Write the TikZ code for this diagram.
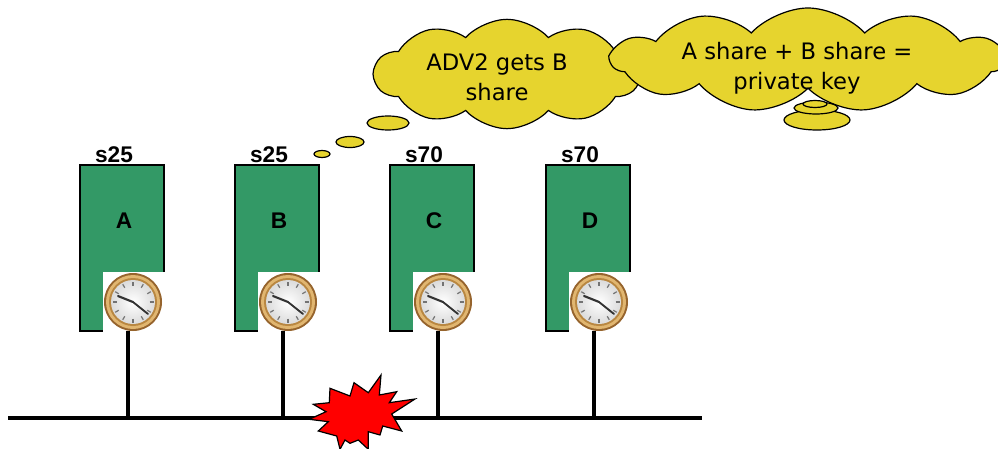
\documentclass[tikz,border=0pt]{standalone}
\usepackage{fontspec}
\setmainfont{Liberation Sans}
\newfontfamily\cloudfont{DejaVu Sans}
\usetikzlibrary{shapes.symbols}
\definecolor{boxgreen}{RGB}{51,153,102}
\definecolor{thought}{RGB}{230,212,46}
\definecolor{rimdark}{RGB}{150,100,45}
\definecolor{rimlight}{RGB}{225,182,112}
\definecolor{rimmid}{RGB}{185,135,65}
\tikzset{
  server/.style={draw=black, line width=0.8pt, fill=boxgreen, minimum width=63pt,
    minimum height=124.5pt, inner sep=0pt, outer sep=0pt, anchor=north west},
  tag/.style={font=\fontsize{17}{20}\selectfont\bfseries, inner sep=0pt},
  wire/.style={line width=2.3pt},
  puff/.style={cloud, cloud puffs=10, cloud puff arc=95, cloud ignores aspect,
    draw=black, line width=0.9pt, fill=thought, inner sep=0pt},
  bubble/.style={draw=black, line width=0.9pt, fill=thought},
  say/.style={font=\cloudfont\fontsize{17}{22.5}\selectfont, align=center, inner sep=0pt},
  clock/.pic={
    \fill[rimdark] (0,0) circle (29);
    \fill[rimlight] (0,0) circle (27);
    \fill[rimmid] (0,0) circle (24);
    \shade[inner color=white, outer color=black!14] (0,0) circle (22);
    \foreach \a in {0,30,...,330}
      \draw[line width=0.9pt, black!55] (\a:16.5) -- (\a:20.5);
    \draw[line width=1.6pt, black!80, line cap=round] (0,0) -- (-15,-6);
    \draw[line width=1.4pt, black!80, line cap=round] (0,0) -- (15,12);
  }
}
\begin{document}
\begin{tikzpicture}[x=0.75pt, y=-0.75pt]
  \useasboundingbox (0,0) rectangle (998,449);
  \fill[white] (0,0) rectangle (998,449);

  % the shared bus
  \coordinate (busL) at (8,418);
  \coordinate (busR) at (702,418);

  % four servers, each with its clock and a drop to the bus
  \foreach \L/\n/\t in {80/A/s25, 235/B/s25, 390/C/s70, 546/D/s70} {
    \node[server] (box\n) at (\L,165) {};
    \node[tag] (tag\n) at (\L+34,155) {\t};
    \node[tag] (name\n) at (\L+44,221) {\n};
    \fill[white] (\L+23,272) rectangle (\L+85,333);
    \pic at (\L+53,302) {clock};
    \coordinate (top\n) at (\L+48,331);
    \draw[wire] (top\n) -- (top\n |- busL);
  }
  \draw[line width=3pt] (busL) -- (busR);

  % attack burst on the bus
  \filldraw[fill=red, draw=black, line width=0.9pt]
    (313.3,404.3) -- (329.3,402.7) -- (330,388.3) -- (350,396) -- (354,382.7)
    -- (368.3,392.7) -- (381,375) -- (379.3,395) -- (396.7,391.7) -- (389.3,402.7)
    -- (415,399) -- (391.7,414) -- (401.7,431) -- (382.7,426) -- (380,435)
    -- (368.3,431.7) -- (368.3,449.3) -- (358.3,440) -- (350,443.3) -- (345,440)
    -- (340,449.3) -- (336.7,436) -- (318.3,431) -- (328.3,421.7) -- (309.3,419.3)
    -- (326,411.7) -- cycle;

  % thought clouds
  \node[puff, minimum width=199pt, minimum height=82pt] (cloudB) at (507,74) {};
  \node[say] (sayB) at (497,77) {ADV2 gets B\\share};
  \draw[bubble] (388,123) ellipse (21 and 7);
  \draw[bubble] (350,142) ellipse (14 and 5.5);
  \draw[bubble] (322,154) ellipse (8 and 3.5);

  \node[puff, cloud puffs=11, minimum width=295pt, minimum height=78pt] (cloudK) at (808,60) {};
  \draw[bubble] (817,120) ellipse (33 and 10);
  \draw[bubble] (816,108) ellipse (22 and 6);
  \draw[bubble] (815,104) ellipse (12 and 3.5);
  \node[say] (sayK) at (797,68) {A share + B share =\\private key};
\end{tikzpicture}
\end{document}
